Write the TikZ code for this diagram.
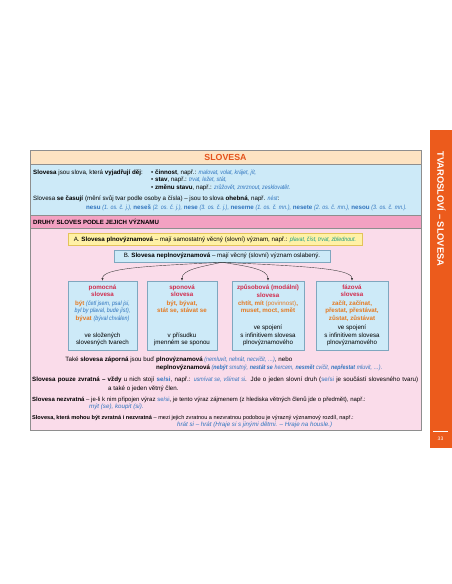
\documentclass[tikz,border=0pt]{standalone}
\usepackage{fontspec}
\setmainfont{Liberation Sans}
\newfontfamily\narrowsans{Liberation Sans}[FakeStretch=0.86]
\usetikzlibrary{calc,arrows.meta}
\definecolor{peach}{HTML}{FDE3C2}
\definecolor{titleor}{HTML}{E4521B}
\definecolor{lblue}{HTML}{CDEAF8}
\definecolor{hpink}{HTML}{F3A1C2}
\definecolor{lpink}{HTML}{FADCEA}
\definecolor{ayellow}{HTML}{FFF1A6}
\definecolor{ayborder}{HTML}{E3C35A}
\definecolor{bxborder}{HTML}{7FA7BF}
\definecolor{sideor}{HTML}{EC5B1C}
\definecolor{frameg}{HTML}{8E8E8E}
\definecolor{exblue}{HTML}{2F74BE}
\definecolor{crim}{HTML}{D12B4C}
\definecolor{exor}{HTML}{E47A22}
\definecolor{exteal}{HTML}{1E9C86}
\newcommand{\ex}[1]{\textcolor{exblue}{\narrowsans\itshape #1}}
\newcommand{\exw}[1]{\textcolor{exblue}{\itshape #1}}
\newcommand{\exb}[1]{\textcolor{exblue}{\bfseries #1}}
\newcommand{\exbi}[1]{\textcolor{exblue}{\narrowsans\bfseries\itshape #1}}
\newcommand{\sesi}{\textcolor{exblue}{se/si}}
\tikzset{
  txt/.style={anchor=base west, inner sep=0pt, font=\fontsize{6.2}{7}\selectfont},
  ctxt/.style={inner sep=0pt, align=center, font=\fontsize{6.2}{7.7}\selectfont},
  kindbox/.style={draw=bxborder, fill=lblue, line width=0.5pt, minimum height=69pt, inner sep=0pt},
  conn/.style={draw=black!75, line width=0.4pt, -{Latex[length=2.6pt,width=2.2pt]}},
  headtxt/.style={ctxt, anchor=north, text=crim, font=\fontsize{6.2}{7.6}\selectfont\bfseries},
  extxt/.style={ctxt, anchor=north, text=exor, font=\fontsize{6.2}{7.9}\selectfont\bfseries},
  desctxt/.style={ctxt, anchor=south},
}
\begin{document}
\begin{tikzpicture}[x=1pt,y=-1pt]
\useasboundingbox (0,0) rectangle (452,584);
\fill[white] (0,0) rectangle (452,584);
% side bar
\fill[sideor] (430,130) rectangle (452,448);
\node[anchor=west, rotate=-90, inner sep=0pt, text=white, font=\fontsize{9.3}{10}\selectfont\bfseries] (side) at (441.5,151.5) {TVAROSLOVÍ – SLOVESA};
\draw[white, line width=0.4pt] (433,431.5) -- (448,431.5);
\node[inner sep=0pt, text=white, font=\fontsize{5}{6}\selectfont] (page) at (440.5,438.5) {33};
% frame sections
\fill[lpink] (30,150) rectangle (421,430);
\fill[peach] (30,150) rectangle (421,164);
\fill[lblue] (30,164) rectangle (421,215);
\fill[hpink] (30,215) rectangle (421,228);
\draw[frameg, line width=0.4pt] (30,164) -- (421,164) (30,215) -- (421,215) (30,228) -- (421,228);
\draw[frameg, line width=0.6pt] (30,150) rectangle (421,430);
\node[inner sep=0pt, text=titleor, font=\fontsize{8.8}{10}\selectfont\bfseries] (title) at (225.5,157.3) {SLOVESA};
% blue section
\node[txt] (s1) at (33,174) {\textbf{Slovesa} jsou slova, která \textbf{vyjadřují děj}:};
\node[txt] (s1a) at (151,174) {\textbullet\ \textbf{činnost}, např.: \ex{malovat, volat, krájet, jít,}};
\node[txt] (s1b) at (151,181.5) {\textbullet\ \textbf{stav}, např.: \ex{trvat, ležet, stát,}};
\node[txt] (s1c) at (151,189) {\textbullet\ \textbf{změnu stavu}, např.: \ex{zrůžovět, zmrznout, zesklovatět.}};
\node[txt] (s2) at (33,200) {Slovesa \textbf{se časují} (mění svůj tvar podle osoby a čísla) – jsou to slova \textbf{ohebná}, např. \ex{nést}:};
\node[txt] (s3) at (86,209.5) {\exb{nesu} \ex{(1. os. č. j.),} \exb{neseš} \ex{(2. os. č. j.),} \exb{nese} \ex{(3. os. č. j.),} \exb{neseme} \ex{(1. os. č. mn.),} \exb{nesete} \ex{(2. os. č. mn.),} \exb{nesou} \ex{(3. os. č. mn.).}};
% header
\node[txt, font=\fontsize{6.1}{7}\selectfont\bfseries] (hdr) at (33,224.5) {DRUHY SLOVES PODLE JEJICH VÝZNAMU};
% boxes A and B
\node[draw=ayborder, fill=ayellow, line width=0.5pt, minimum width=294pt, minimum height=12pt, inner sep=0pt, font=\fontsize{6.2}{7}\selectfont] (boxA) at (215,239.5)
  {A. \textbf{Slovesa plnovýznamová} – mají samostatný věcný (slovní) význam, např.: \textcolor{exteal}{\narrowsans\itshape plavat, číst, trvat, zblednout.}};
\node[draw=bxborder, fill=lblue, line width=0.5pt, minimum width=216pt, minimum height=12pt, inner sep=0pt, font=\fontsize{6.2}{7}\selectfont] (boxB) at (222,256)
  {B. \textbf{Slovesa neplnovýznamová} – mají věcný (slovní) význam oslabený.};
% four kind boxes
\node[kindbox, minimum width=69pt] (b1) at (102.5,315.5) {};
\node[kindbox, minimum width=70pt] (b2) at (182,315.5) {};
\node[kindbox, minimum width=72pt] (b3) at (268,315.5) {};
\node[kindbox, minimum width=72pt] (b4) at (352,315.5) {};
% box texts
\node[headtxt] (h1) at ($(b1.north)+(0,3.5)$) {pomocná\\slovesa};
\node[headtxt] (h2) at ($(b2.north)+(0,3.5)$) {sponová\\slovesa};
\node[headtxt] (h3) at ($(b3.north)+(0,3.5)$) {způsobová (modální)\\slovesa};
\node[headtxt] (h4) at ($(b4.north)+(0,3.5)$) {fázová\\slovesa};
\node[extxt] (e1) at ($(b1.north)+(0,19.5)$) {být \ex{\mdseries(četl jsem, psal jsi,}\\\ex{\mdseries byl by plaval, bude jíst),}\\bývat \ex{\mdseries(býval chválen)}};
\node[extxt] (e2) at ($(b2.north)+(0,19.5)$) {být, bývat,\\stát se, stávat se};
\node[extxt] (e3) at ($(b3.north)+(0,19.5)$) {chtít, mít {\mdseries(povinnost)},\\muset, moct, smět};
\node[extxt] (e4) at ($(b4.north)+(0,19.5)$) {začít, začínat,\\přestat, přestávat,\\zůstat, zůstávat};
\node[desctxt] (d1) at ($(b1.south)+(0,-4)$) {ve složených\\slovesných tvarech};
\node[desctxt] (d2) at ($(b2.south)+(0,-4)$) {v přísudku\\jmenném se sponou};
\node[desctxt] (d3) at ($(b3.south)+(0,-4)$) {ve spojení\\s infinitivem slovesa\\plnovýznamového};
\node[desctxt] (d4) at ($(b4.south)+(0,-4)$) {ve spojení\\s infinitivem slovesa\\plnovýznamového};
% connectors
\draw[conn] (boxB.south) .. controls (150,266) and ($(b1.north)+(0,-13)$) .. (b1.north);
\draw[conn] (boxB.south) .. controls (200,267) and ($(b2.north)+(0,-11)$) .. (b2.north);
\draw[conn] (boxB.south) .. controls (245,266) and ($(b3.north)+(0,-12)$) .. (b3.north);
\draw[conn] (boxB.south) .. controls (295,266) and ($(b4.north)+(0,-13)$) .. (b4.north);
% bottom text
\node[txt, anchor=base east] (l1a) at (154.3,361.5) {Také \textbf{slovesa záporná} jsou buď};
\node[txt] (l1b) at (156,361.5) {\textbf{plnovýznamová} \ex{(nemluvit, nehrát, necvičit, …)}, nebo};
\node[txt] (l2) at (156,369) {\textbf{neplnovýznamová} \ex{(}\exbi{nebýt} \ex{smutný,} \exbi{nestát se} \ex{hercem,} \exbi{nesmět} \ex{cvičit,} \exbi{nepřestat} \ex{mluvit, …).}};
\node[txt] (l3) at (32,381) {\makebox[386pt][s]{\textbf{Slovesa pouze zvratná – vždy} u nich stojí \textcolor{exblue}{\bfseries se/si}, např.: \ex{usmívat se, všímat si}. Jde o jeden slovní druh (\sesi\ je součástí slovesného tvaru)}};
\node[txt] (l4) at (108,390) {a také o jeden větný člen.};
\node[txt, font=\fontsize{6.0}{7}\selectfont] (l5) at (32,401) {\textbf{Slovesa nezvratná} – je-li k nim připojen výraz \sesi, je tento výraz zájmenem (z hlediska větných členů jde o předmět), např.:};
\node[txt] (l6) at (89,408.5) {\exw{mýt (se), koupit (si).}};
\node[txt, font=\fontsize{5.6}{7}\selectfont] (l7) at (32,419) {\textbf{Slovesa, která mohou být zvratná i nezvratná} – mezi jejich zvratnou a nezvratnou podobou je výrazný významový rozdíl, např.:};
\node[txt] (l8) at (177,426.5) {\exw{hrát si – hrát (Hraje si s jinými dětmi. – Hraje na housle.)}};
\end{tikzpicture}
\end{document}
